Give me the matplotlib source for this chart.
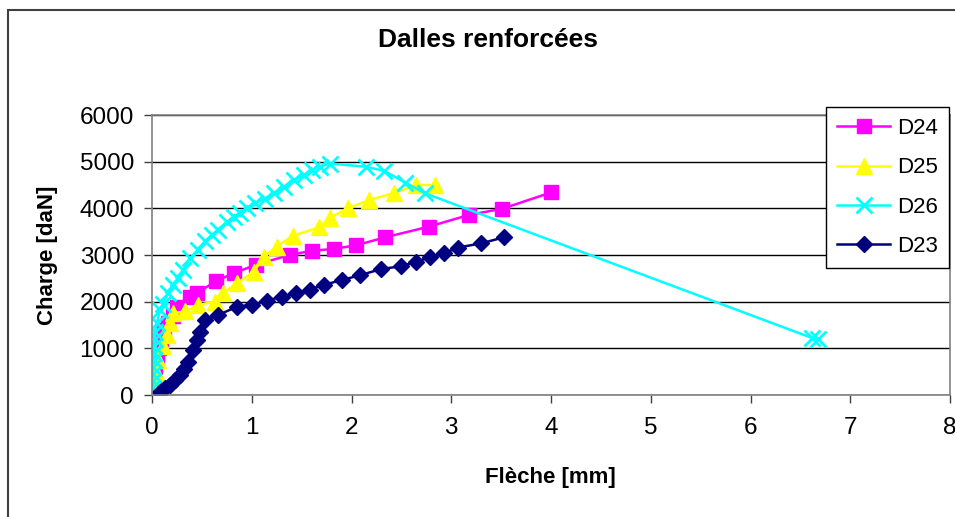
import matplotlib
matplotlib.use('Agg')
import matplotlib.pyplot as plt
from matplotlib.patches import Rectangle

plt.rcParams['font.family'] = ['Liberation Sans', 'DejaVu Sans']

# Data: deflection [mm] vs load [daN]
d24_x = [0, 0.01, 0.02, 0.03, 0.05, 0.07, 0.09, 0.12, 0.16, 0.21, 0.25, 0.38, 0.45, 0.64,
         0.82, 1.04, 1.38, 1.60, 1.82, 2.05, 2.34, 2.78, 3.18, 3.51, 4.00]
d24_y = [0, 200, 400, 600, 800, 1000, 1200, 1400, 1550, 1700, 1890, 2100, 2180, 2440,
         2610, 2790, 3000, 3090, 3130, 3210, 3380, 3610, 3860, 3990, 4340]

d25_x = [0, 0.01, 0.02, 0.04, 0.06, 0.11, 0.15, 0.18, 0.21, 0.33, 0.46, 0.63, 0.71, 0.85,
         1.02, 1.12, 1.25, 1.41, 1.67, 1.78, 1.96, 2.18, 2.43, 2.65, 2.84]
d25_y = [0, 150, 300, 500, 750, 1040, 1290, 1540, 1750, 1790, 1930, 2000, 2180, 2390,
         2640, 2960, 3180, 3410, 3590, 3790, 4000, 4180, 4330, 4500, 4500]

d26_x = [0, 0.005, 0.01, 0.01, 0.015, 0.02, 0.02, 0.025, 0.03, 0.03, 0.05, 0.08, 0.11,
         0.16, 0.21, 0.26, 0.31, 0.38, 0.46, 0.53, 0.60, 0.66, 0.75, 0.82, 0.88, 0.95,
         1.03, 1.13, 1.22, 1.32, 1.42, 1.52, 1.60, 1.68, 1.78, 2.15, 2.33, 2.54, 2.74,
         6.62, 6.68]
d26_y = [0, 150, 300, 450, 600, 750, 900, 1050, 1200, 1350, 1540, 1820, 1960,
         2180, 2360, 2500, 2680, 2930, 3110, 3290, 3430, 3540, 3710, 3820, 3890, 4000,
         4110, 4210, 4320, 4460, 4610, 4710, 4820, 4890, 4960, 4890, 4800, 4550, 4320,
         1220, 1200]

d23_x = [0.08, 0.13, 0.18, 0.23, 0.28, 0.32, 0.36, 0.41, 0.45, 0.48, 0.53, 0.66, 0.85,
         1.00, 1.15, 1.30, 1.44, 1.58, 1.72, 1.90, 2.09, 2.30, 2.50, 2.65, 2.79, 2.93,
         3.07, 3.30, 3.53]
d23_y = [60, 150, 220, 320, 430, 560, 710, 960, 1180, 1360, 1610, 1710, 1890,
         1930, 2020, 2110, 2180, 2260, 2360, 2460, 2570, 2700, 2760, 2860, 2950, 3040,
         3160, 3250, 3380]

x_ticks = [0, 1, 2, 3, 4, 5, 6, 7, 8]
y_ticks = [0, 1000, 2000, 3000, 4000, 5000, 6000]

W, H = 955, 517
fig = plt.figure(figsize=(W / 100, H / 100), dpi=100)
ax = fig.add_axes([152 / W, 1 - 395 / H, (950 - 152) / W, (395 - 115) / H])

# chart area border
fig.patches.append(Rectangle((8 / W, -0.1), 1.2, 1.1 - 10 / H, transform=fig.transFigure,
                             fill=False, edgecolor='#404040', linewidth=1.5))

ax.plot(d24_x, d24_y, color='#FF00FF', marker='s', markersize=10.5, linewidth=1.8, label='D24')
ax.plot(d25_x, d25_y, color='#FFFF00', marker='^', markersize=11, linewidth=1.8, label='D25')
ax.plot(d26_x, d26_y, color='#00FFFF', marker='x', markersize=11, markeredgewidth=2,
        linewidth=1.8, label='D26')
ax.plot(d23_x, d23_y, color='#000080', marker='D', markersize=8.5, linewidth=1.8, label='D23')

ax.set_xlim(0, 8)
ax.set_ylim(0, 6000)
ax.set_xticks(x_ticks)
ax.set_yticks(y_ticks)
ax.tick_params(axis='both', direction='out', length=6, width=1, color='#404040',
               labelsize=17.5)
ax.tick_params(axis='x', pad=10)
ax.tick_params(axis='y', pad=7)
ax.grid(axis='y', color='black', linewidth=1)
ax.set_axisbelow(True)
for s in ax.spines.values():
    s.set_color('#808080')
    s.set_linewidth(1.2)

fig.text(488 / W, 1 - 40 / H, 'Dalles renforcées', ha='center', va='center',
         fontsize=19, fontweight='bold')
fig.text(47 / W, 1 - 255 / H, 'Charge [daN]', ha='center', va='center', rotation=90,
         fontsize=16, fontweight='bold')
fig.text(550 / W, 1 - 477 / H, 'Flèche [mm]', ha='center', va='center',
         fontsize=16, fontweight='bold')

leg = fig.legend(loc='upper left', bbox_to_anchor=(826 / W, 1 - 107 / H), borderaxespad=0,
                 fontsize=16, handlelength=2.4, labelspacing=0.82, fancybox=False,
                 framealpha=1, edgecolor='black', borderpad=0.5, handletextpad=0.3)
leg.get_frame().set_linewidth(1)

fig.savefig('out.png', dpi=100)
